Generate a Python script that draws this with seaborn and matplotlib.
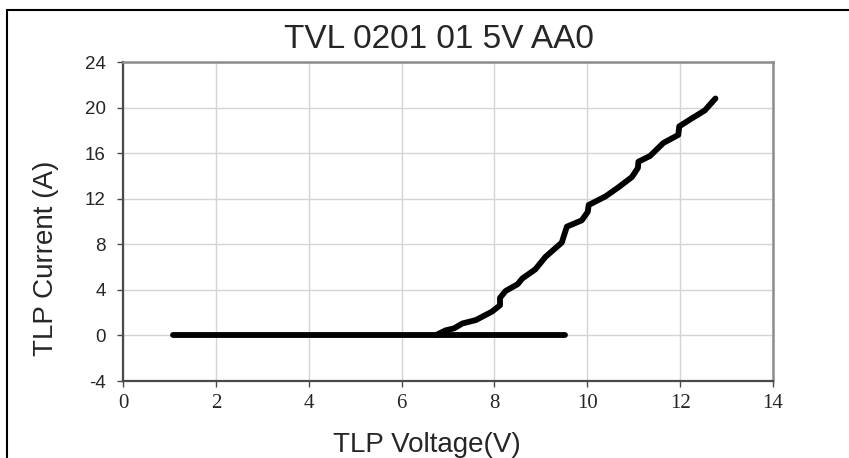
import matplotlib
matplotlib.use("Agg")
import matplotlib.pyplot as plt
from matplotlib.patches import Rectangle
import seaborn as sns

# ── Data ─────────────────────────────────────────────────────────────────────
# low-current / leakage sweep, flat at 0 A
leak_v = [1.08, 9.52]
leak_i = [0.0, 0.0]

# TLP I-V curve after trigger
tlp_v = [6.74, 6.95, 7.13, 7.31, 7.60, 7.95, 8.12, 8.12, 8.24, 8.50,
         8.60, 8.88, 9.10, 9.45, 9.56, 9.88, 10.01, 10.03, 10.39, 10.67,
         10.96, 11.09, 11.10, 11.35, 11.64, 11.96, 11.98, 12.25, 12.53, 12.76]
tlp_i = [0.03, 0.45, 0.62, 1.05, 1.35, 2.10, 2.65, 3.30, 3.90, 4.50,
         5.00, 5.80, 6.90, 8.15, 9.55, 10.10, 10.85, 11.45, 12.20, 13.00,
         13.90, 14.70, 15.25, 15.75, 16.90, 17.60, 18.35, 19.05, 19.75, 20.80]

x_ticks = [0, 2, 4, 6, 8, 10, 12, 14]
y_ticks = [-4, 0, 4, 8, 12, 16, 20, 24]

title = "TVL 0201 01 5V AA0"
x_label = "TLP Voltage(V)"
y_label = "TLP Current (A)"

# ── Style ────────────────────────────────────────────────────────────────────
sns.set_theme(style="white")
plt.rcParams["font.family"] = ["Liberation Sans", "DejaVu Sans"]

fig = plt.figure(figsize=(8.49, 4.58), dpi=100)
ax = fig.add_axes([0.1449, 0.1681, 0.7656, 0.6965])

line_kw = dict(color="black", linewidth=4.2, solid_capstyle="round",
               solid_joinstyle="round", sort=False, estimator=None)
sns.lineplot(x=leak_v, y=leak_i, ax=ax, **line_kw)
sns.lineplot(x=tlp_v, y=tlp_i, ax=ax, **line_kw)

ax.set_xlim(0, 14)
ax.set_ylim(-4, 24)
ax.set_xticks(x_ticks)
ax.set_yticks(y_ticks)
ax.set_xticklabels([str(t) for t in x_ticks], family="Liberation Serif", fontsize=15)
ax.set_yticklabels([str(t) for t in y_ticks], fontsize=13.5)

ax.grid(True, color="#d4d4d4", linewidth=1)
ax.set_axisbelow(True)

for side in ["left", "bottom"]:
    ax.spines[side].set_color("#4a4a4a")
    ax.spines[side].set_linewidth(1.6)
for side in ["top", "right"]:
    ax.spines[side].set_color("#8c8c8c")
    ax.spines[side].set_linewidth(1.8)

ax.tick_params(axis="x", direction="out", length=4, width=1, color="#4a4a4a",
               pad=5, bottom=True)
ax.tick_params(axis="y", direction="out", length=4.5, width=1, color="#4a4a4a",
               pad=8, left=True)

ax.set_title(title, fontsize=24, x=0.486, pad=10)

ax.set_xlabel(x_label, fontsize=20)
ax.xaxis.label.set_va("baseline")
ax.xaxis.set_label_coords(0.467, -0.2226)

ax.set_ylabel(y_label, fontsize=20)
ax.yaxis.label.set_va("center")
ax.yaxis.label.set_ha("center")
ax.yaxis.set_label_coords(-0.1185, 0.3856)

# outer chart frame (only left and top edges fall inside the picture)
fig.add_artist(Rectangle((7 / 849, -0.2), 1.2, 1.2 - 10 / 458,
                         transform=fig.transFigure, fill=False,
                         edgecolor="black", linewidth=1.5))

fig.savefig("out.png", dpi=100)
